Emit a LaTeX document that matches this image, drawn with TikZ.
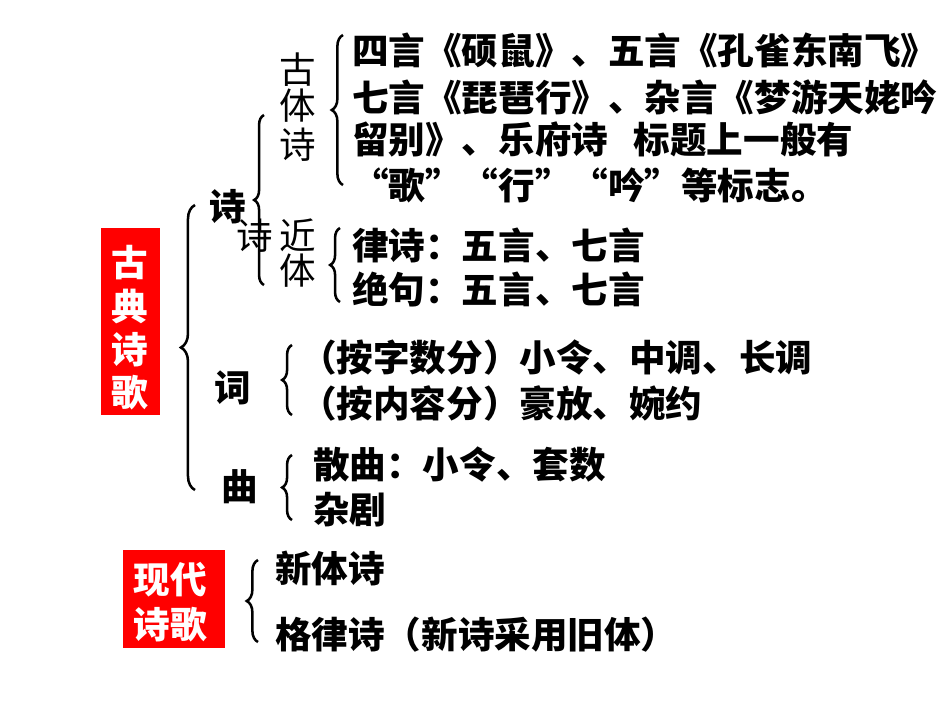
\documentclass[tikz,border=0pt]{standalone}
\usepackage{fontspec}
\newfontfamily\cjk{Noto Sans CJK SC}
\usetikzlibrary{decorations.pathreplacing}
\begin{document}
\begin{tikzpicture}[x=0.025cm,y=-0.025cm,
 txt/.style={anchor=west,inner sep=0pt,font=\cjk\bfseries\fontsize{26}{30}\selectfont},
 lbl/.style={inner sep=0pt,font=\cjk\bfseries\fontsize{26}{30}\selectfont},
 thin/.style={inner sep=0pt,font=\cjk\fontsize{26}{30}\selectfont},
 redbox/.style={fill=red,draw=none,inner sep=0pt},
 br/.style={decorate,decoration={brace,amplitude=#1},line width=1.8pt}]
\useasboundingbox (0,0) rectangle (950,713);
\fill[white] (0,0) rectangle (950,713);
% red boxes
\node[redbox,minimum width=59*0.025cm,minimum height=187*0.025cm] (rb1) at (130.5,321.5) {};
\node[lbl,white] (g1) at (130,263) {古};
\node[lbl,white] (g2) at (130,306) {典};
\node[lbl,white] (g3) at (130,350) {诗};
\node[lbl,white] (g4) at (130,393) {歌};
\node[redbox,minimum width=102*0.025cm,minimum height=98*0.025cm] (rb2) at (174,599) {};
\node[lbl,white] (m1) at (170,580) {现代};
\node[lbl,white] (m2) at (170,625) {诗歌};
% big brace
\draw[br=10pt] (195,490) -- (195,205);
\node[lbl] (shi) at (228,207) {诗};
\node[thin] (shi2) at (255,236) {诗};
\draw[br=7pt] (264,285) -- (264,115);
\node[thin] (gu1) at (298,70) {古};
\node[thin] (gu2) at (298,106) {体};
\node[thin] (gu3) at (298,145) {诗};
\draw[br=8pt] (343,185) -- (343,35);
\node[txt] (l1) at (352,50) {四言《硕鼠》、五言《孔雀东南飞》};
\node[txt] (l2) at (352,97) {七言《琵琶行》、杂言《梦游天姥吟};
\node[txt] (l3) at (352,140) {留别》、乐府诗\hspace{0.7em}标题上一般有};
\node[txt] (l4) at (352,185) {“歌”“行”“吟”等标志。};
\node[thin] (j1) at (298,235) {近};
\node[thin] (j2) at (298,271) {体};
\draw[br=7pt] (340,302) -- (340,228);
\node[txt] (j3) at (352,245) {律诗：五言、七言};
\node[txt] (j4) at (352,290) {绝句：五言、七言};
\node[lbl] (ci) at (233,388) {词};
\draw[br=7pt] (292,415) -- (292,345);
\node[txt] (c1) at (300,358) {（按字数分）小令、中调、长调};
\node[txt] (c2) at (300,403) {（按内容分）豪放、婉约};
\node[lbl] (qu) at (240,487) {曲};
\draw[br=7pt] (292,520) -- (292,455);
\node[txt] (q1) at (313,465) {散曲：小令、套数};
\node[txt] (q2) at (313,510) {杂剧};
\draw[br=8pt] (258,642) -- (258,560);
\node[txt] (x1) at (275,568) {新体诗};
\node[txt] (x2) at (275,635) {格律诗（新诗采用旧体）};
\end{tikzpicture}
\end{document}
